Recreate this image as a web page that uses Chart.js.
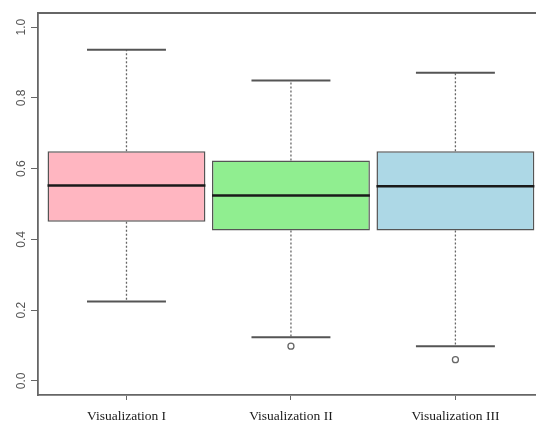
<!DOCTYPE html>
<html>
<head>
<meta charset="utf-8">
<script src="https://cdn.jsdelivr.net/npm/chart.js@4"></script>
<style>
  html, body { margin: 0; padding: 0; background: #fff; }
  #wrap { width: 536px; height: 421px; }
</style>
</head>
<body>
<div id="wrap"><canvas id="myChart"></canvas></div>
<script>
// box plot data
const categories = ['Visualization I', 'Visualization II', 'Visualization III'];
const whiskerLow = [0.224, 0.123, 0.098];
const q1 = [0.450, 0.425, 0.425];
const medians = [0.552, 0.524, 0.550];
const q3 = [0.649, 0.623, 0.649];
const whiskerHigh = [0.936, 0.849, 0.871];
const outliers = [[], [0.098], [0.060]];
const boxColors = ['#FFB6C1', '#90EE90', '#ADD8E6'];
const yTicks = [0, 0.2, 0.4, 0.6, 0.8, 1.0];

const boxData = [];
for (var i = 0; i < categories.length; i++) {
  boxData.push({ x: i + 1, y: [q1[i], q3[i]] });
}
const outlierData = [];
for (var i = 0; i < outliers.length; i++) {
  outliers[i].forEach(function(v) { outlierData.push({ x: i + 1, y: v }); });
}

// whiskers, caps, medians and the top frame line
const boxExtras = {
  id: 'boxExtras',
  afterDatasetsDraw(chart) {
    const ctx = chart.ctx;
    const xs = chart.scales.x, ys = chart.scales.y;
    const bars = chart.getDatasetMeta(0).data;
    ctx.save();
    for (var i = 0; i < bars.length; i++) {
      const cx = xs.getPixelForValue(i + 1);
      const half = bars[i].width / 2;
      // dotted whiskers
      ctx.strokeStyle = '#666';
      ctx.lineWidth = 1.3;
      ctx.setLineDash([2, 2]);
      ctx.beginPath();
      ctx.moveTo(cx, ys.getPixelForValue(q3[i]));
      ctx.lineTo(cx, ys.getPixelForValue(whiskerHigh[i]));
      ctx.moveTo(cx, ys.getPixelForValue(q1[i]));
      ctx.lineTo(cx, ys.getPixelForValue(whiskerLow[i]));
      ctx.stroke();
      // caps
      ctx.setLineDash([]);
      ctx.strokeStyle = '#555';
      ctx.lineWidth = 2;
      ctx.beginPath();
      ctx.moveTo(cx - half / 2, ys.getPixelForValue(whiskerHigh[i]));
      ctx.lineTo(cx + half / 2, ys.getPixelForValue(whiskerHigh[i]));
      ctx.moveTo(cx - half / 2, ys.getPixelForValue(whiskerLow[i]));
      ctx.lineTo(cx + half / 2, ys.getPixelForValue(whiskerLow[i]));
      ctx.stroke();
      // median
      ctx.strokeStyle = '#1a1a1a';
      ctx.lineWidth = 2.5;
      ctx.beginPath();
      ctx.moveTo(cx - half, ys.getPixelForValue(medians[i]));
      ctx.lineTo(cx + half, ys.getPixelForValue(medians[i]));
      ctx.stroke();
    }
    // top of the frame
    const a = chart.chartArea;
    ctx.strokeStyle = '#666';
    ctx.lineWidth = 1.8;
    ctx.beginPath();
    ctx.moveTo(a.left, a.top);
    ctx.lineTo(a.right, a.top);
    ctx.stroke();
    ctx.restore();
  }
};

new Chart('myChart', {
  type: 'bar',
  data: {
    datasets: [{
      data: boxData,
      backgroundColor: boxColors,
      borderColor: '#555',
      borderWidth: 1.5,
      borderSkipped: false,
      barPercentage: 1,
      categoryPercentage: 0.96
    }, {
      type: 'scatter',
      data: outlierData,
      pointStyle: 'circle',
      pointRadius: 3,
      backgroundColor: '#fff',
      borderColor: '#666',
      borderWidth: 1.3
    }]
  },
  options: {
    responsive: true,
    maintainAspectRatio: false,
    animation: false,
    layout: { autoPadding: false, padding: { top: 13, right: 0, left: 0, bottom: 0 } },
    plugins: { legend: { display: false }, tooltip: { enabled: false } },
    scales: {
      x: {
        type: 'linear',
        offset: false,
        min: 0.462,
        max: 3.49,
        afterBuildTicks: function(s) { s.ticks = categories.map(function(c, i) { return { value: i + 1 }; }); },
        afterFit: function(s) { s.height = 26; },
        ticks: {
          autoSkip: false,
          maxRotation: 0,
          padding: 8,
          color: '#1a1a1a',
          font: { family: 'Liberation Serif', size: 13.5 },
          callback: function(v) { return categories[v - 1]; }
        },
        grid: { offset: false, drawOnChartArea: false, tickLength: 5, color: '#666' },
        border: { display: true, color: '#666', width: 1.8 }
      },
      y: {
        min: -0.04,
        max: 1.04,
        afterBuildTicks: function(s) { s.ticks = yTicks.map(function(v) { return { value: v }; }); },
        afterFit: function(s) { s.width = 38; },
        ticks: {
          minRotation: 90,
          maxRotation: 90,
          crossAlign: 'center',
          padding: 1,
          color: '#555',
          font: { family: 'Liberation Sans', size: 12 },
          callback: function(v) { return v.toFixed(1); }
        },
        grid: { drawOnChartArea: false, tickLength: 7, color: '#666' },
        border: { display: true, color: '#666', width: 1.8 }
      }
    }
  },
  plugins: [boxExtras]
});
</script>
</body>
</html>
